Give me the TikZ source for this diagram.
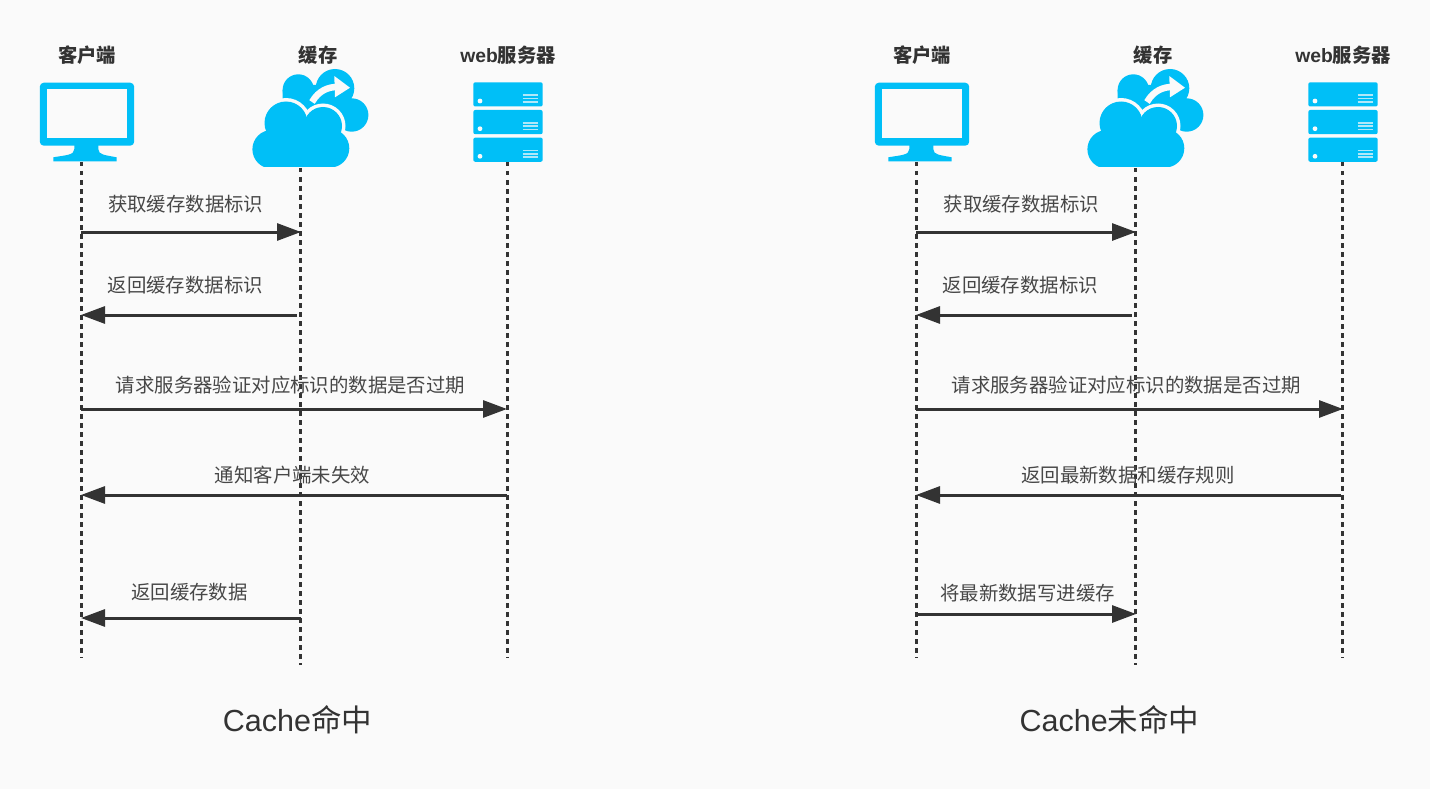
\documentclass[tikz,border=0pt]{standalone}
\usepackage{fontspec}
\setmainfont{Liberation Sans}
\newfontfamily\cjk{Noto Sans CJK SC}
\usetikzlibrary{arrows.meta}
\definecolor{pagebg}{HTML}{FAFAFA}
\definecolor{iconblue}{HTML}{00BFF7}
\definecolor{inkgray}{HTML}{333333}

\begin{document}
\begin{tikzpicture}
	[x=1pt,y=-1pt,
	head/.style={inkgray,font=\bfseries\fontsize{19.3}{22}\selectfont,inner sep=0pt},
	note/.style={inkgray!90!white,font=\cjk\fontsize{19.4}{22}\selectfont,inner sep=0pt},
	title/.style={inkgray,font=\fontsize{30.5}{36}\selectfont,inner sep=0pt},
	life/.style={inkgray,line width=3pt,dash pattern=on 4.5pt off 4.5pt},
	msg/.style={inkgray,line width=3pt,-{Triangle[length=24pt,width=17pt]}},
	monitor/.pic={
		\fill [iconblue,rounded corners=4pt] (-41.2,82.7) -- (53.2,82.7) -- (53.2,145.7) -- (-41.2,145.7) -- cycle;
		\fill [pagebg] (-33.7,89) rectangle (46.3,138.3);
		\fill [iconblue] (-6.7,145) -- (-6.7,149) .. controls (-6.7,155) and (-14,155) .. (-27.7,157.3) -- (-27.7,161.5) -- (35.7,161.5) -- (35.7,157.3) .. controls (24,155) and (17.3,155) .. (17.3,149) -- (17.3,145) -- cycle;
	},
	cloudicon/.pic={
		% back cloud
		\fill [iconblue] (-1.7,90) circle (15.7) (35,88.3) circle (19.3) (51.7,115) circle (16.7);
		\fill [iconblue] (-17.4,90) -- (10,85) -- (40,85) -- (60,120) -- (40,132) -- (0,125) -- (-17.4,100) -- cycle;
		% front cloud with a halo
		\foreach \cx/\cy/\cr in {-28.3/149.3/19.3,-14/123/21.5,23/126/19,30/148.3/19.3} {
			\fill [pagebg] (\cx,\cy) circle (\cr+3.5);
		}
		\fill [pagebg] (-30,140) rectangle (30,172);
		\foreach \cx/\cy/\cr in {-28.3/149.3/19.3,-14/123/21.5,23/126/19,30/148.3/19.3} {
			\fill [iconblue] (\cx,\cy) circle (\cr);
		}
		\fill [iconblue] (-28,135) rectangle (30,167) (-16,118) rectangle (22,140);
		\fill [pagebg] (-50,167) rectangle (52,172);
		% arrow on the back cloud
		\draw [pagebg,line width=6.5pt] (12,102) .. controls (19,90) and (29,87) .. (37,87);
		\fill [pagebg] (34.3,76) -- (50,87.7) -- (35,97.3) -- cycle;
	},
	serverrow/.pic={
		\fill [iconblue,rounded corners=2pt] (-34.2,0) rectangle (35.2,24.2);
		\fill [pagebg] (-27.5,18.7) circle (2.4);
		\draw [pagebg!70!iconblue,line width=1.7pt] (15.2,13) -- (30.2,13) (15.2,16.2) -- (30.2,16.2) (15.2,19.4) -- (30.2,19.4);
	}]

\fill [pagebg] (0,0) rectangle (1430,789);

\foreach \side/\dx in {l/0,r/835} {
	\begin{scope}[xshift=\dx pt]
	\node [head] (\side client) at (87,55) {\cjk\bfseries 客户端};
	\node [head] (\side cache) at (318,55) {\cjk\bfseries 缓存};
	\node [head] (\side server) at (508,55) {web{\cjk\bfseries 服务器}};
	\pic at (81,0) {monitor};
	\pic at (300,0) {cloudicon};
	\pic at (507.5,82.3) {serverrow};
	\pic at (507.5,110) {serverrow};
	\pic at (507.5,137.6) {serverrow};
	\coordinate (\side a0) at (81.5,162);
	\coordinate (\side a9) at (81.5,658);
	\coordinate (\side b0) at (300.5,168);
	\coordinate (\side b9) at (300.5,665);
	\coordinate (\side c0) at (507.5,162);
	\coordinate (\side c9) at (507.5,658);
	\end{scope}
	\draw [life] (\side a0) -- (\side a9);
	\draw [life] (\side b0) -- (\side b9);
	\draw [life] (\side c0) -- (\side c9);
}

% left sequence
\coordinate (la1) at (81,232); \coordinate (lb1) at (301,232);
\coordinate (lb2) at (297,315); \coordinate (la2) at (81,315);
\coordinate (la3) at (81,409); \coordinate (lc3) at (507,409);
\coordinate (lc4) at (507,495); \coordinate (la4) at (81,495);
\coordinate (lb5) at (301,618); \coordinate (la5) at (81,618);
\draw [msg] (la1) -- (lb1);
\draw [msg] (lb2) -- (la2);
\draw [msg] (la3) -- (lc3);
\draw [msg] (lc4) -- (la4);
\draw [msg] (lb5) -- (la5);
\node [note] (lnote1) at (185.7,204.5) {获取缓存数据标识};
\node [note] (lnote2) at (185.2,285.5) {返回缓存数据标识};
\node [note] (lnote3) at (290.5,385.5) {请求服务器验证对应标识的数据是否过期};
\node [note] (lnote4) at (292.5,475.5) {通知客户端未失效};
\node [note] (lnote5) at (189.5,592.5) {返回缓存数据};
\node [title] (ltitle) at (297.5,720) {Cache{\cjk 命中}};

% right sequence
\coordinate (ra1) at (916,232); \coordinate (rb1) at (1136,232);
\coordinate (rb2) at (1132,315); \coordinate (ra2) at (916,315);
\coordinate (ra3) at (916,409); \coordinate (rc3) at (1343,409);
\coordinate (rc4) at (1341,495); \coordinate (ra4) at (916,495);
\coordinate (ra5) at (916,614); \coordinate (rb5) at (1136,614);
\draw [msg] (ra1) -- (rb1);
\draw [msg] (rb2) -- (ra2);
\draw [msg] (ra3) -- (rc3);
\draw [msg] (rc4) -- (ra4);
\draw [msg] (ra5) -- (rb5);
\node [note] (rnote1) at (1021.2,204.5) {获取缓存数据标识};
\node [note] (rnote2) at (1020.2,285.5) {返回缓存数据标识};
\node [note] (rnote3) at (1126.2,385.5) {请求服务器验证对应标识的数据是否过期};
\node [note] (rnote4) at (1128,475.5) {返回最新数据和缓存规则};
\node [note] (rnote5) at (1027.5,593.5) {将最新数据写进缓存};
\node [title] (rtitle) at (1109.5,720) {Cache{\cjk 未命中}};

\end{tikzpicture}
\end{document}
